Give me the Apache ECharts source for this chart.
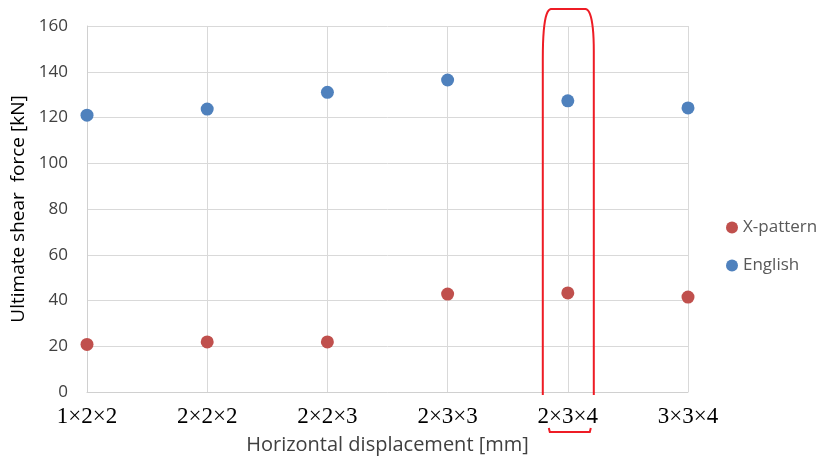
<!DOCTYPE html>
<html><head><meta charset="utf-8">
<script src="https://cdn.jsdelivr.net/npm/echarts@6/dist/echarts.min.js"></script>
<style>html,body{margin:0;padding:0;background:#fff}#c{width:821px;height:461px}</style>
</head><body><div id="c"></div>
<script>
const categories = ['1×2×2','2×2×2','2×2×3','2×3×3','2×3×4','3×3×4'];
const xPattern = [20.8, 21.9, 21.9, 42.8, 43.3, 41.5];
const english = [121.0, 123.7, 131.0, 136.4, 127.3, 124.2];
const yTicks = [0, 20, 40, 60, 80, 100, 120, 140, 160];
const highlightCategory = '2×3×4';

const chart = echarts.init(document.getElementById('c'), null, {renderer:'canvas'});
const sans = 'Open Sans, Liberation Sans, sans-serif';
chart.setOption({
  animation:false,
  grid:{left:87, right:133, top:26, bottom:69, containLabel:false},
  legend:{
    orient:'vertical', left:721, top:214, itemGap:21,
    icon:'circle', itemWidth:12, itemHeight:12,
    textStyle:{color:'#595959', fontSize:17, fontFamily:sans},
    data:['X-pattern','English']
  },
  xAxis:{
    type:'category', data:categories, boundaryGap:false,
    name:'Horizontal displacement [mm]', nameLocation:'middle', nameGap:43,
    nameTextStyle:{color:'#404040', fontSize:20, fontFamily:sans},
    axisLine:{show:true, lineStyle:{color:'#d0d0d0', width:1}},
    axisTick:{show:false},
    axisLabel:{color:'#000', fontSize:23, fontFamily:'Liberation Serif, Times New Roman, serif', margin:13},
    splitLine:{show:true, lineStyle:{color:'#d9d9d9', width:1}}
  },
  yAxis:{
    type:'value', min:yTicks[0], max:yTicks[yTicks.length-1], interval:yTicks[1]-yTicks[0],
    name:'Ultimate shear  force [kN]', nameLocation:'middle', nameGap:56,
    nameTextStyle:{color:'#000', fontSize:19, fontFamily:sans},
    axisLine:{show:true, lineStyle:{color:'#d0d0d0', width:1}},
    axisTick:{show:false},
    axisLabel:{color:'#404040', fontSize:17, fontFamily:sans, margin:19},
    splitLine:{show:true, lineStyle:{color:'#d9d9d9', width:1}}
  },
  series:[
    {name:'X-pattern', type:'scatter', data:xPattern, symbolSize:13, itemStyle:{color:'#C0504D', opacity:1}},
    {name:'English', type:'scatter', data:english, symbolSize:13, itemStyle:{color:'#4F81BD', opacity:1}}
  ]
});

// red hand-drawn highlight around the chosen category, positioned via the axis scale
function bez(p0, p1, p2, p3, n) {
  const out = [];
  for (let i = 0; i <= n; i++) {
    const t = i / n, u = 1 - t;
    out.push([
      u*u*u*p0[0] + 3*u*u*t*p1[0] + 3*u*t*t*p2[0] + t*t*t*p3[0],
      u*u*u*p0[1] + 3*u*u*t*p1[1] + 3*u*t*t*p2[1] + t*t*t*p3[1]
    ]);
  }
  return out;
}
const cx = chart.convertToPixel({xAxisIndex:0}, highlightCategory);
const yTop = chart.convertToPixel({yAxisIndex:0}, 160) - 17;
const yBot = chart.convertToPixel({yAxisIndex:0}, 0);
const L = cx - 25, R = cx + 26;
let pts = [[L, yBot + 3]];
pts = pts.concat(bez([L, yTop + 50], [L, yTop + 15], [L + 3, yTop + 1], [L + 8, yTop], 12));
pts = pts.concat(bez([R - 8, yTop], [R - 3, yTop + 1], [R, yTop + 15], [R, yTop + 42], 12));
pts.push([R, yBot + 3]);
const bracket = [[cx - 19, yBot + 36], [cx - 18, yBot + 40], [cx + 22, yBot + 40], [cx + 23, yBot + 36]];
chart.setOption({
  graphic:[
    {type:'polyline', shape:{points:pts}, style:{stroke:'#EE1C25', lineWidth:2, fill:null}, z:100},
    {type:'polyline', shape:{points:bracket}, style:{stroke:'#EE1C25', lineWidth:2, fill:null}, z:100}
  ]
});
</script></body></html>
